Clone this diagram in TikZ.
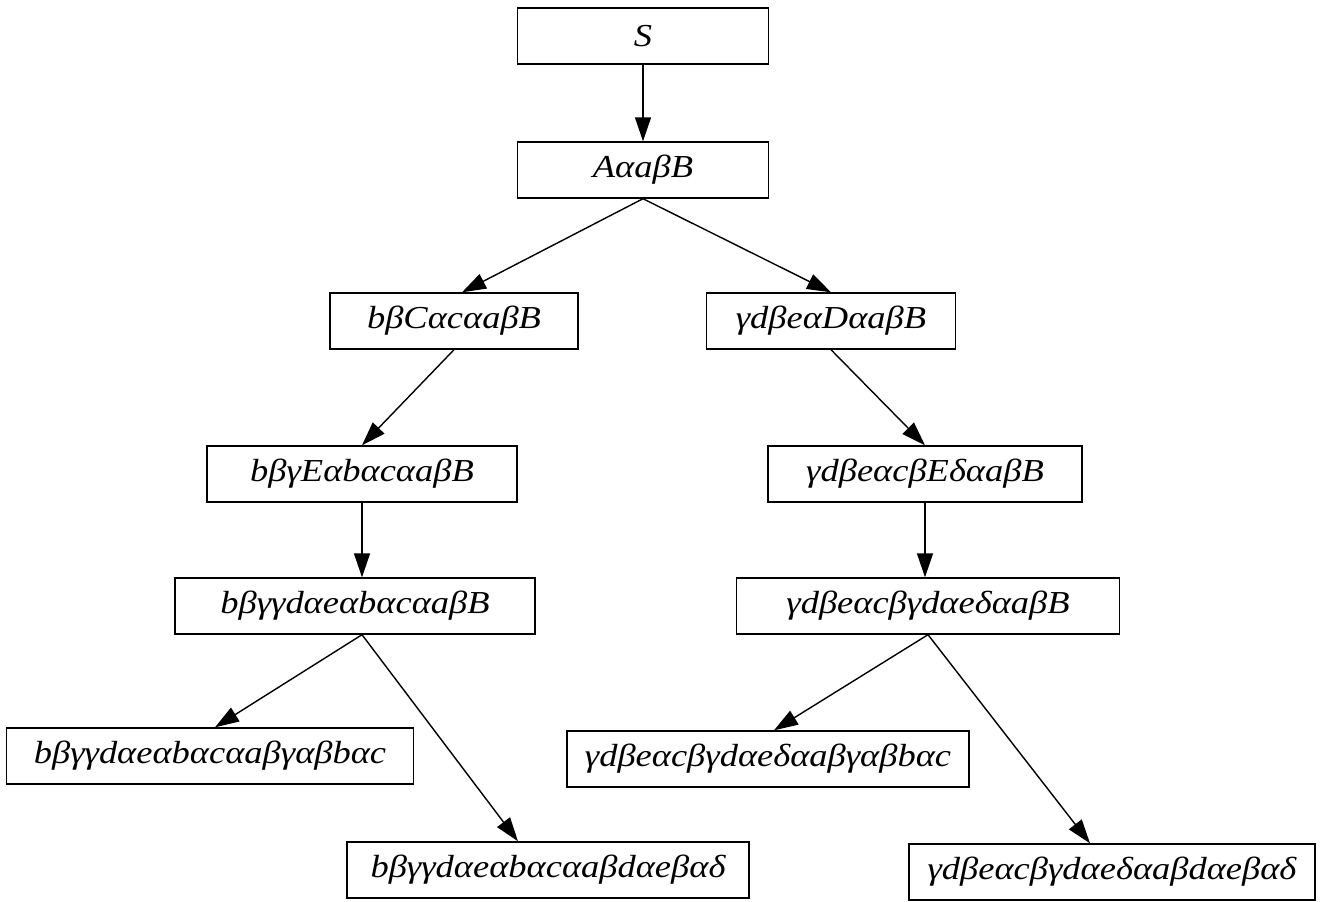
\documentclass[tikz,border=0pt]{standalone}
\usepackage{fontspec}
\setmainfont{Liberation Serif}[FakeStretch=1.14]
\usetikzlibrary{arrows.meta}
\begin{document}
\begin{tikzpicture}[x=1pt,y=-1pt,
  box/.style={draw, line width=1.4pt, minimum height=56pt, inner sep=0pt,
    font=\fontsize{32}{38}\selectfont\itshape},
  arr/.style={line width=1.4pt, -{Triangle[length=24pt,width=16pt]}}]
\useasboundingbox (0,0) rectangle (1328,902);
% derivation tree boxes
\node[box, minimum width=251pt] (s)   at (643,36)   {S};
\node[box, minimum width=251pt] (a)   at (643,170)  {AαaβB};
\node[box, minimum width=248pt] (l1)  at (454,321)  {bβCαcαaβB};
\node[box, minimum width=249pt] (r1)  at (831,321)  {γdβeαDαaβB};
\node[box, minimum width=310pt] (l2)  at (362,474)  {bβγEαbαcαaβB};
\node[box, minimum width=314pt] (r2)  at (925,474)  {γdβeαcβEδαaβB};
\node[box, minimum width=360pt] (l3)  at (355,606)  {bβγγdαeαbαcαaβB};
\node[box, minimum width=383pt] (r3)  at (928,606)  {γdβeαcβγdαeδαaβB};
\node[box, minimum width=407pt] (l4a) at (210,756)  {bβγγdαeαbαcαaβγαβbαc};
\node[box, minimum width=402pt] (r4a) at (768,759)  {γdβeαcβγdαeδαaβγαβbαc};
\node[box, minimum width=402pt] (l4b) at (548,870)  {bβγγdαeαbαcαaβdαeβαδ};
\node[box, minimum width=406pt] (r4b) at (1112,872) {γdβeαcβγdαeδαaβdαeβαδ};
% derivation steps
\draw[arr] (s.south) -- (a.north);
\draw[arr] (a.south) -- ([xshift=8pt]l1.north);
\draw[arr] (a.south) -- (r1.north);
\draw[arr] (l1.south) -- (l2.north);
\draw[arr] (r1.south) -- (r2.north);
\draw[arr] (l2.south) -- (l2.south |- l3.north);
\draw[arr] (r2.south) -- (r2.south |- r3.north);
\draw[arr] ([xshift=7pt]l3.south) -- ([xshift=5pt]l4a.north);
\draw[arr] ([xshift=7pt]l3.south) -- ([xshift=-30pt]l4b.north);
\draw[arr] (r3.south) -- ([xshift=6pt]r4a.north);
\draw[arr] (r3.south) -- ([xshift=-22pt]r4b.north);
\end{tikzpicture}
\end{document}
